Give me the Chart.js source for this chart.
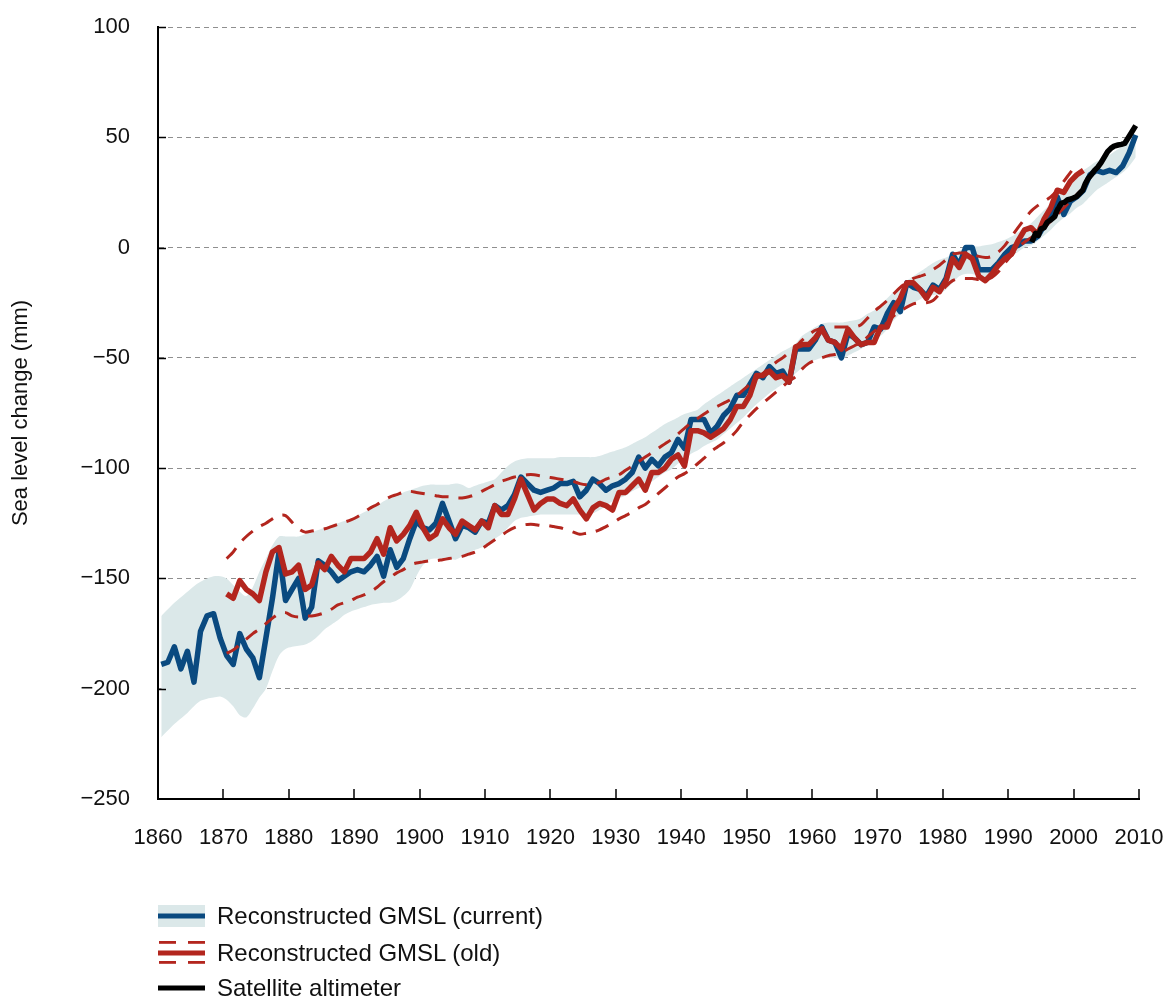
<!DOCTYPE html>
<html>
<head>
<meta charset="utf-8">
<script src="https://cdn.jsdelivr.net/npm/chart.js@4/dist/chart.umd.min.js"></script>
<style>
  html, body { margin: 0; padding: 0; background: #fff; }
  #wrap { position: relative; width: 1169px; height: 999px; overflow: hidden; }
  #chart { position: absolute; left: 0; top: 0; }
  .key { position: absolute; left: 158px; height: 24px; display: flex; align-items: center; }
  .key svg { display: block; }
  .key span { margin-left: 12px; font-family: "Liberation Sans", Arial, sans-serif; font-size: 24px; color: #111; line-height: 24px; white-space: nowrap; }
</style>
</head>
<body>
<div id="wrap">
  <canvas id="chart" width="1169" height="999"></canvas>
  <div class="key" style="top:904px">
    <svg width="47" height="24"><rect x="0" y="1" width="47" height="22" fill="#dbe8e9"/><rect x="0" y="9.5" width="47" height="5" fill="#0a4a80"/></svg>
    <span>Reconstructed GMSL (current)</span>
  </div>
  <div class="key" style="top:941px">
    <svg width="47" height="24"><rect x="1" y="0" width="17" height="2.8" fill="#b3261e"/><rect x="30" y="0" width="17" height="2.8" fill="#b3261e"/><rect x="0" y="9.5" width="47" height="5" fill="#b3261e"/><rect x="1" y="20" width="17" height="2.8" fill="#b3261e"/><rect x="30" y="20" width="17" height="2.8" fill="#b3261e"/></svg>
    <span>Reconstructed GMSL (old)</span>
  </div>
  <div class="key" style="top:976px">
    <svg width="47" height="24"><rect x="0" y="9.5" width="47" height="5" fill="#000"/></svg>
    <span>Satellite altimeter</span>
  </div>
</div>
<script>
// Global mean sea level reconstructions, annual means (mm), plotted at mid-year.
const currentStart = 1860;
const currentGMSL = [
  -189, -188, -181, -191, -183, -197, -174, -167, -166, -177,
  -185, -189, -175, -182, -186, -195, -177, -159, -138, -160,
  -155, -150, -168, -163, -142, -144, -147, -151, -149, -147,
  -146, -147, -144, -140, -149, -137, -145, -141, -132, -124,
  -127, -128, -125, -116, -124, -132, -126, -127, -129, -124,
  -125, -117, -119, -117, -112, -104, -107, -110, -111, -110,
  -109, -107, -107, -106, -113, -110, -105, -107, -110, -108,
  -107, -105, -102, -95, -100, -96, -99, -95, -93, -87,
  -91, -78, -78, -78, -84, -81, -76, -73, -67, -67,
  -62, -57, -59, -54, -57, -56, -61, -46, -46, -46,
  -42, -36, -42, -43, -50, -39, -41, -44, -43, -36,
  -37, -30, -25, -29, -16, -18, -19, -22, -17, -19,
  -14, -3, -8, 0, 0, -10, -10, -10, -7, -3,
  0, 1, 3, 3, 5, 10, 15, 23, 15, 21,
  23, 26, 33, 35, 34, 35, 34, 37, 43, 51
];
// Uncertainty envelope of the current reconstruction
const currentUpper = [
  -167, -164, -161, -158.5, -156, -153.5, -151.5, -150, -149, -149,
  -150, -153, -156, -158, -154, -147, -141, -135, -131, -131,
  -131, -131, -130, -129, -128, -127, -126, -125, -124, -123,
  -121.5, -120, -118.5, -117, -115, -113.5, -112.5, -111, -110, -109,
  -108, -107.5, -107.5, -107.5, -107.5, -107, -107.5, -109, -108, -107,
  -106, -105, -102, -99, -97, -96, -95.5, -95.5, -95.5, -95.5,
  -95.5, -95, -95, -95, -95, -95, -95, -94.5, -93.5, -92.5,
  -91.5, -90.5, -89, -87.5, -86, -84, -82, -80, -78.5, -77,
  -75.5, -74.5, -73.5, -71, -69, -67, -65, -63, -61, -59,
  -57, -55, -53, -51, -49, -47, -45.5, -43.5, -40, -38,
  -36, -34.5, -34, -34, -34, -33.5, -33, -32, -30, -28.5,
  -26, -23, -20, -17.5, -15, -13, -11, -9, -7, -5.5,
  -4.5, -3, -1.5, 0, 0.5, 0.5, 1, 1.5, 2.5, 3.5,
  5, 7, 9, 11, 14, 17, 20, 23, 26, 29,
  32, 35, 37, 39, 40, 42, 44, 46, 48, 50
];
const currentLower = [
  -222, -219, -216, -213.5, -211, -208, -205.5, -204.5, -204, -203.5,
  -205, -208, -212, -213, -209, -204, -200, -192, -185, -182,
  -181, -180.5, -180, -178.5, -176, -173, -171, -169, -166.5, -165,
  -164, -163, -162, -161.5, -161, -161, -160, -158, -155, -149,
  -144, -141.5, -141, -141, -141, -141.5, -140, -138.5, -137, -136,
  -134, -132, -130, -127, -124, -122.5, -122, -121.5, -121, -121,
  -121, -121, -121, -121, -121, -121, -120.5, -119, -117, -115,
  -113.5, -112.5, -110.5, -109, -107.5, -106, -104, -102, -100.5, -98,
  -96, -93.5, -92, -90, -88.5, -87, -84.5, -82, -79.5, -77,
  -74, -71, -68.5, -66, -64, -62, -60, -57, -54.5, -52,
  -51, -50, -50, -50, -50.5, -49, -47.5, -46, -44, -42,
  -40, -37, -33, -30, -27, -25, -23.5, -22, -21.5, -21,
  -19, -16, -13, -12, -12, -13, -14, -13, -10, -7,
  -4, -2, 0, 1, 3, 5.5, 8, 11, 13.5, 15.5,
  18, 20, 23, 26, 28, 30, 32, 34, 37, 41
];

const oldStart = 1870;
const oldGMSL = [
  -157, -159, -151, -155, -157, -160, -147, -138, -136, -148,
  -147, -144, -155, -153, -143, -146, -140, -144, -147, -141,
  -141, -141, -138, -132, -139, -127, -133, -130, -126, -120,
  -127, -132, -130, -123, -127, -130, -124, -126, -128, -124,
  -127, -117, -121, -121, -114, -105, -112, -119, -116, -114,
  -114, -116, -117, -114, -119, -123, -118, -116, -117, -119,
  -111, -111, -108, -105, -110, -102, -102, -100, -96, -94,
  -99, -83, -83, -84, -86, -84, -82, -78, -72, -72,
  -67, -58, -58, -56, -59, -58, -61, -45, -44, -44,
  -41, -37, -42, -43, -46, -37, -41, -44, -43, -43,
  -36, -36, -28, -23, -16, -16, -19, -23, -18, -20,
  -15, -5, -9, -3, -5, -13, -15, -12, -8, -5,
  -3, 3, 8, 9, 6, 13, 18, 26, 25, 30,
  33, 35
];
const oldUpper = [
  -141, -138, -134, -131, -128.5, -126.5, -125, -123, -121.5, -121.5,
  -124.5, -127.5, -129, -128.5, -128, -127.5, -126.5, -125.5, -124.5, -123.5,
  -122, -120, -118, -116.5, -114.5, -113, -112, -111, -110.5, -111,
  -111.5, -112, -112.5, -113, -113, -113.5, -113.5, -113, -112, -110.5,
  -109, -107.5, -106, -105, -104, -103.5, -103, -103, -103.5, -104,
  -104.5, -105, -105.5, -106, -107, -107.5, -107.5, -106.5, -105, -104,
  -103, -101, -99, -97, -95, -93, -91, -89, -87, -84.5,
  -82, -79.5, -77.5, -75.5, -73.5, -72, -70.5, -69, -67, -64.5,
  -62, -59.5, -57, -54.5, -52, -50, -47.5, -45, -42, -39.5,
  -37.5, -36.5, -36, -36, -36, -36, -36, -35, -32, -29,
  -26.5, -24, -21, -18, -16, -14, -13, -12, -10, -8,
  -5.5, -3, -2.5, -2.5, -3, -4, -4.5, -4, -2, 1,
  5, 9, 13, 16.5, 19, 21, 23, 26, 30, 34,
  38
];
const oldLower = [
  -184, -182.5, -180, -177.5, -175, -173, -170.5, -168, -166, -165.5,
  -167, -167.5, -167, -167, -166.5, -165.5, -164, -162, -161, -160,
  -158.5, -157.5, -156, -154, -151.5, -149.5, -147.5, -146, -144, -143,
  -142.5, -142, -142, -141.5, -141, -140.5, -140, -139, -138, -136.5,
  -134.5, -132.5, -130.5, -128.5, -127, -126, -125.5, -125.5, -126, -126,
  -126.5, -127, -128, -129, -130, -129.5, -129, -128, -126.5, -125,
  -123, -121.5, -120, -118, -116.5, -114, -111.5, -109, -106.5, -104,
  -102.5, -100.5, -98, -95.5, -92.5, -90.5, -88.5, -86, -83, -79,
  -76, -73, -70.5, -68, -65.5, -63, -60.5, -58.5, -55, -52.5,
  -51, -50, -49, -48.5, -47.5, -46, -44.5, -43, -40.5, -38,
  -36, -34, -31, -29, -27, -25.5, -25, -25, -24, -21,
  -17.5, -15, -14, -14, -14, -14.5, -14.5, -13.5, -11, -7,
  -3.5, 0, 2.5, 4.5, 6.5, 9, 12, 15, 18, 21,
  24, 27
];

// Satellite altimetry record
const satYears = [
  1993.6, 1994.2, 1994.6, 1995.0, 1995.5, 1996.0, 1996.5, 1997.1, 1997.5, 1998.1,
  1998.6, 1999.1, 1999.6, 2000.4, 2000.9, 2001.4, 2001.8, 2002.2, 2002.7, 2003.2,
  2003.7, 2004.2, 2004.7, 2005.2, 2005.7, 2006.2, 2006.8, 2007.3, 2007.8, 2008.5,
  2009.5
];
const satGMSL = [
  2.5, 6.5, 5.5, 8.5, 9, 11.6, 12.5, 14, 17, 20,
  20.5, 21.7, 22, 23, 24.5, 26, 29, 31.2, 33, 35,
  36.5, 38.5, 41, 43.5, 45, 46, 46.5, 46.8, 47.2, 50.5,
  55.3
];

const yTickValues = [100, 50, 0, -50, -100, -150, -200, -250];
const xTickYears = [1860, 1870, 1880, 1890, 1900, 1910, 1920, 1930, 1940, 1950, 1960, 1970, 1980, 1990, 2000, 2010];

// Annual values are centred on the middle of their year.
const annual = (start, values) => values.map((v, i) => ({ x: start + i + 0.5, y: v }));
const paired = (xs, ys) => xs.map((x, i) => ({ x: x, y: ys[i] }));

const BLUE = '#0a4a80';
const RED = '#b3261e';
const BAND = '#dbe8e9';
const FONT = '"Liberation Sans", Arial, sans-serif';

// Short inward tick marks on both axes
const innerTicks = {
  id: 'innerTicks',
  afterDraw(chart) {
    const { ctx, chartArea, scales } = chart;
    ctx.save();
    ctx.strokeStyle = '#000';
    ctx.lineWidth = 1.5;
    scales.y.ticks.forEach(t => {
      if (t.value === scales.y.min) return;
      const py = Math.round(scales.y.getPixelForValue(t.value)) + 0.5;
      ctx.beginPath();
      ctx.moveTo(chartArea.left, py);
      ctx.lineTo(chartArea.left + 8, py);
      ctx.stroke();
    });
    scales.x.ticks.forEach(t => {
      if (t.value === scales.x.min) return;
      const px = Math.round(scales.x.getPixelForValue(t.value));
      ctx.beginPath();
      ctx.moveTo(px, chartArea.bottom);
      ctx.lineTo(px, chartArea.bottom - 10);
      ctx.stroke();
    });
    ctx.restore();
  }
};

const lineBase = { pointRadius: 0, pointHoverRadius: 0, fill: false, borderJoinStyle: 'round' };

new Chart(document.getElementById('chart'), {
  type: 'line',
  data: {
    datasets: [
      Object.assign({}, lineBase, { label: 'Satellite altimeter', data: paired(satYears, satGMSL), borderColor: '#000', borderWidth: 5.5, order: 0 }),
      Object.assign({}, lineBase, { label: 'Reconstructed GMSL (old)', data: annual(oldStart, oldGMSL), borderColor: RED, borderWidth: 5.5, order: 1 }),
      Object.assign({}, lineBase, { label: 'old upper', data: annual(oldStart, oldUpper), borderColor: RED, borderWidth: 3, borderDash: [14, 10], tension: 0.3, order: 2 }),
      Object.assign({}, lineBase, { label: 'old lower', data: annual(oldStart, oldLower), borderColor: RED, borderWidth: 3, borderDash: [14, 10], tension: 0.3, order: 2 }),
      Object.assign({}, lineBase, { label: 'Reconstructed GMSL (current)', data: annual(currentStart, currentGMSL), borderColor: BLUE, borderWidth: 5.5, order: 3 }),
      Object.assign({}, lineBase, { label: 'current lower', data: annual(currentStart, currentLower), borderColor: 'rgba(0,0,0,0)', borderWidth: 0, tension: 0.3, order: 4 }),
      Object.assign({}, lineBase, { label: 'current upper', data: annual(currentStart, currentUpper), borderColor: 'rgba(0,0,0,0)', borderWidth: 0, tension: 0.3, fill: { target: 5 }, backgroundColor: BAND, order: 5 })
    ]
  },
  options: {
    responsive: false,
    animation: false,
    events: [],
    layout: { padding: { top: 27, right: 30, bottom: 0, left: 0 } },
    plugins: { legend: { display: false }, tooltip: { enabled: false } },
    scales: {
      x: {
        type: 'linear',
        min: 1860,
        max: 2010,
        afterFit(scale) { scale.height = 200; scale.paddingLeft = 0; scale.paddingRight = 0; },
        afterBuildTicks(scale) { scale.ticks = xTickYears.map(v => ({ value: v })); },
        grid: { display: false, drawTicks: false },
        border: { display: true, color: '#000', width: 2 },
        ticks: { color: '#111', padding: 26, maxRotation: 0, autoSkip: false, font: { family: FONT, size: 22 }, callback: v => String(v) }
      },
      y: {
        type: 'linear',
        min: -250,
        max: 100,
        afterFit(scale) { scale.width = 158; scale.paddingTop = 0; scale.paddingBottom = 0; },
        afterBuildTicks(scale) { scale.ticks = yTickValues.map(v => ({ value: v })); },
        grid: {
          drawTicks: false,
          lineWidth: 1,
          color: c => (c.tick && c.tick.value === -250) ? 'rgba(0,0,0,0)' : '#8f8f8f'
        },
        border: { display: true, color: '#000', width: 2, dash: [5, 4] },
        ticks: { color: '#111', padding: 28, autoSkip: false, font: { family: FONT, size: 22 }, callback: v => String(v).replace('-', '\u2212') },
        title: { display: true, text: 'Sea level change (mm)', color: '#111', font: { family: FONT, size: 22 }, padding: { top: 8, bottom: 0 } }
      }
    }
  },
  plugins: [innerTicks]
});
</script>
</body>
</html>
